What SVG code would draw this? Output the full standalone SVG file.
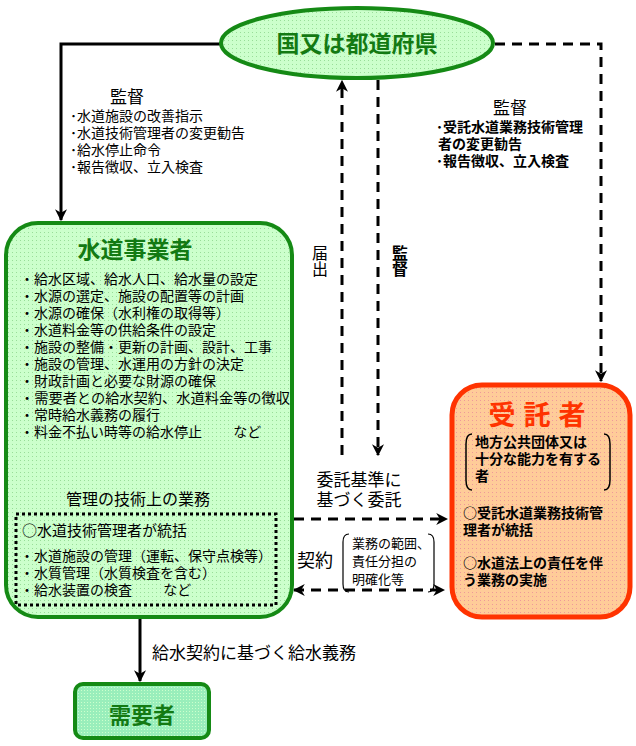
<svg xmlns="http://www.w3.org/2000/svg" width="636" height="746" viewBox="0 0 636 746">
<style>
text{font-family:"Noto Sans CJK JP","Noto Sans CJK SC",sans-serif;fill:#000}
.t{font-size:14px}
.b{font-weight:bold}
.gt{fill:#137a13;font-weight:bold}
.solid{fill:none;stroke:#000;stroke-width:3}
.dash{fill:none;stroke:#000;stroke-width:3;stroke-dasharray:10 7}
</style>
<defs>
<marker id="ah" viewBox="0 0 10 10" refX="9" refY="5" markerWidth="4" markerHeight="4" orient="auto-start-reverse" markerUnits="strokeWidth">
<path d="M0,0 L10,5 L0,10 L3,5 z" fill="#000"/>
</marker>
<pattern id="gdots" width="4" height="4" patternUnits="userSpaceOnUse">
<rect width="4" height="4" fill="#ccffcc"/><rect x="0" y="0" width="1" height="1" fill="#99dd99"/>
</pattern>
<pattern id="odots" width="4" height="4" patternUnits="userSpaceOnUse">
<rect width="4" height="4" fill="#ffcc99"/><rect x="0" y="0" width="1" height="1" fill="#ee9999"/>
</pattern>
<pattern id="mdots" width="3" height="3" patternUnits="userSpaceOnUse">
<rect width="3" height="3" fill="#99eebb"/><rect x="0" y="0" width="1" height="1" fill="#ccffcc"/>
</pattern>
</defs>

<g id="connectors">
<polyline class="solid" points="220,44 61,44 61,220" marker-end="url(#ah)"/>
<polyline class="dash" points="495,44 601,44 601,381" marker-end="url(#ah)"/>
<line class="dash" x1="342" y1="455" x2="342" y2="81" marker-end="url(#ah)"/>
<line class="dash" x1="378" y1="80" x2="378" y2="455" marker-end="url(#ah)"/>
<line class="dash" x1="277" y1="519" x2="447" y2="519" marker-end="url(#ah)"/>
<line class="dash" x1="294" y1="590" x2="444" y2="590" marker-start="url(#ah)" marker-end="url(#ah)"/>
<line class="solid" x1="140" y1="618" x2="140" y2="681" marker-end="url(#ah)"/>
<path d="M271,519 h8 M275,515 v8" stroke="#000" stroke-width="2"/>
</g>

<g id="labels">
<text x="127" y="103" font-size="17" text-anchor="middle">監督</text>
<text class="t" x="70" y="121">･水道施設の改善指示</text>
<text class="t" x="70" y="138">･水道技術管理者の変更勧告</text>
<text class="t" x="70" y="155">･給水停止命令</text>
<text class="t" x="70" y="172">･報告徴収、立入検査</text>

<text x="510" y="114" font-size="17" text-anchor="middle">監督</text>
<text class="t b" x="436" y="132">･受託水道業務技術管理</text>
<text class="t b" x="438" y="149">者の変更勧告</text>
<text class="t b" x="436" y="166">･報告徴収、立入検査</text>

<text x="320" y="245" font-size="16" style="writing-mode:vertical-rl" text-anchor="start">届出</text>
<text x="400" y="245" font-size="16" font-weight="bold" style="writing-mode:vertical-rl">監督</text>

<text x="359" y="486" font-size="17" text-anchor="middle">委託基準に</text>
<text x="359" y="506" font-size="17" text-anchor="middle">基づく委託</text>
<text x="297" y="567" font-size="18">契約</text>
<path d="M349,534 q-6,0 -6,8 v42 q0,8 6,8" fill="none" stroke="#000" stroke-width="1.2"/>
<path d="M428,534 q6,0 6,8 v42 q0,8 -6,8" fill="none" stroke="#000" stroke-width="1.2"/>
<text x="352" y="548" font-size="13">業務の範囲、</text>
<text x="352" y="566" font-size="13">責任分担の</text>
<text x="352" y="584" font-size="13">明確化等</text>
<text x="152" y="659" font-size="17">給水契約に基づく給水義務</text>
</g>

<g id="kuni">
<ellipse cx="357" cy="43" rx="136" ry="35" fill="url(#gdots)" stroke="#158a15" stroke-width="4"/>
<text class="gt" x="357" y="52" font-size="23" text-anchor="middle">国又は都道府県</text>
</g>

<g id="suido">
<rect x="6" y="223" width="286" height="394" rx="32" fill="url(#gdots)" stroke="#158a15" stroke-width="4"/>
<text class="gt" x="135" y="258" font-size="23" text-anchor="middle">水道事業者</text>
<text class="t" x="20" y="284">・給水区域、給水人口、給水量の設定</text>
<text class="t" x="20" y="301">・水源の選定、施設の配置等の計画</text>
<text class="t" x="20" y="318">・水源の確保（水利権の取得等）</text>
<text class="t" x="20" y="335">・水道料金等の供給条件の設定</text>
<text class="t" x="20" y="352">・施設の整備・更新の計画、設計、工事</text>
<text class="t" x="20" y="369">・施設の管理、水運用の方針の決定</text>
<text class="t" x="20" y="386">・財政計画と必要な財源の確保</text>
<text class="t" x="20" y="403" textLength="270" lengthAdjust="spacingAndGlyphs">・需要者との給水契約、水道料金等の徴収</text>
<text class="t" x="20" y="420">・常時給水義務の履行</text>
<text class="t" x="20" y="437">・料金不払い時等の給水停止　　 など</text>
<text x="138" y="505" font-size="16" text-anchor="middle">管理の技術上の業務</text>
<rect x="16" y="514" width="260" height="91" fill="none" stroke="#000" stroke-width="3" stroke-dasharray="3 3"/>
<text x="22" y="536" font-size="15">○水道技術管理者が統括</text>
<text class="t" x="20" y="561">・水道施設の管理（運転、保守点検等）</text>
<text class="t" x="20" y="578">・水質管理（水質検査を含む）</text>
<text class="t" x="20" y="595">・給水装置の検査　　 など</text>
</g>

<g id="jutaku">
<rect x="452" y="385" width="178" height="232" rx="30" fill="url(#odots)" stroke="#ff3300" stroke-width="5"/>
<text x="541" y="425" font-size="27" font-weight="bold" fill="#ff3300" style="fill:#ff3300" text-anchor="middle" letter-spacing="8">受託者</text>
<path d="M472,434 q-6,0 -6,10 v36 q0,10 6,10" fill="none" stroke="#000" stroke-width="1.5"/>
<path d="M604,434 q6,0 6,10 v36 q0,10 -6,10" fill="none" stroke="#000" stroke-width="1.5"/>
<text class="t b" x="475" y="447">地方公共団体又は</text>
<text class="t b" x="475" y="464">十分な能力を有する</text>
<text class="t b" x="475" y="481">者</text>
<text class="t b" x="463" y="518">○受託水道業務技術管</text>
<text class="t b" x="463" y="535">理者が統括</text>
<text class="t b" x="463" y="568">○水道法上の責任を伴</text>
<text class="t b" x="463" y="585">う業務の実施</text>
</g>

<g id="juyosha">
<rect x="75" y="684" width="134" height="54" rx="8" fill="url(#mdots)" stroke="#158a15" stroke-width="4"/>
<text class="gt" x="142" y="723" font-size="22" text-anchor="middle">需要者</text>
</g>
</svg>
